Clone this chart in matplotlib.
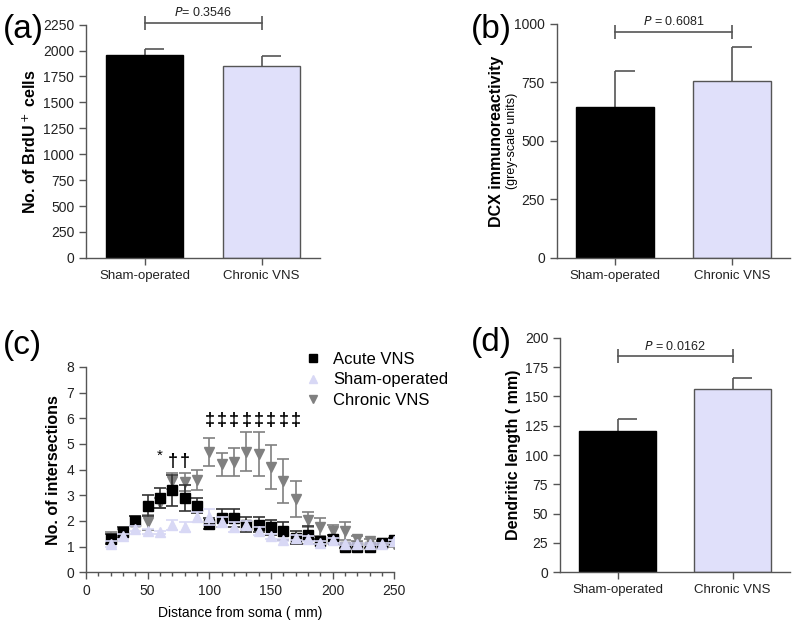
import matplotlib.pyplot as plt
import numpy as np

plt.rcParams['font.family'] = ['Liberation Sans', 'DejaVu Sans']

groups = ["Sham-operated", "Chronic VNS"]

# (a) BrdU+ cells
brdu_mean = [1960, 1855]
brdu_sem = [50, 95]
# (b) DCX immunoreactivity
dcx_mean = [645, 757]
dcx_sem = [155, 143]
# (d) dendritic length
dend_mean = [120.5, 156]
dend_sem = [10, 9.5]

# (c) Sholl analysis
dist = [20, 30, 40, 50, 60, 70, 80, 90, 100, 110, 120, 130, 140, 150, 160,
        170, 180, 190, 200, 210, 220, 230, 240, 250]
acute = [1.3, 1.55, 2.0, 2.6, 2.9, 3.2, 2.9, 2.6, 1.9, 2.1, 2.1, 1.85, 1.85,
         1.75, 1.6, 1.35, 1.45, 1.2, 1.3, 1.0, 1.0, 1.0, 1.15, 1.25]
acute_err = [0.2, 0.2, 0.2, 0.4, 0.4, 0.6, 0.5, 0.3, 0.2, 0.35, 0.35, 0.3, 0.3,
             0.3, 0.35, 0.25, 0.35, 0.1, 0.15, 0.05, 0.05, 0.05, 0.05, 0.1]
sham = [1.1, 1.4, 1.7, 1.6, 1.55, 1.85, 1.75, 2.15, 2.15, 1.95, 1.75, 1.85, 1.6,
        1.4, 1.25, 1.35, 1.3, 1.15, 1.25, 1.1, 1.1, 1.1, 1.1, 1.2]
sham_err = [0.1, 0.1, 0.1, 0.1, 0.05, 0.2, 0.2, 0.2, 0.3, 0.2, 0.2, 0.15, 0.15,
            0.1, 0.05, 0.1, 0.1, 0.05, 0.1, 0.05, 0.05, 0.05, 0.05, 0.05]
chronic = [1.35, 1.55, 2.0, 1.95, 2.7, 3.55, 3.5, 3.6, 4.7, 4.2, 4.3, 4.7, 4.6,
           4.1, 3.55, 2.85, 2.05, 1.75, 1.6, 1.6, 1.3, 1.2, 1.15, 1.1]
chronic_err = [0.2, 0.15, 0.2, 0.3, 0.2, 0.3, 0.35, 0.4, 0.55, 0.45, 0.55, 0.75,
               0.85, 0.85, 0.85, 0.7, 0.3, 0.35, 0.25, 0.35, 0.1, 0.1, 0.1, 0.1]
sig_star = [60]
sig_dagger = [70, 80]
sig_ddagger = [100, 110, 120, 130, 140, 150, 160, 170]

axcol = '#555555'
bar_colors = ['black', '#e0e0fa']

fig = plt.figure(figsize=(8, 6.2), dpi=100)


def style(ax):
    for s in ['top', 'right']:
        ax.spines[s].set_visible(False)
    for s in ['left', 'bottom']:
        ax.spines[s].set_color(axcol)
        ax.spines[s].set_linewidth(1.0)
    ax.tick_params(colors=axcol, labelcolor='#222222', labelsize=10, length=5, width=1)


def bar_panel(rect, mean, sem, ylim, yticks, ptxt, ybr):
    ax = fig.add_axes(rect)
    x = np.arange(len(groups))
    ax.bar(x, mean, width=0.665, color=bar_colors, edgecolor=['black', '#555555'],
           linewidth=1.0, zorder=2)
    top = np.array(mean) + np.array(sem)
    # GraphPad-style error bars: upper only, cap to the right
    ax.vlines(x, mean, top, color=axcol, lw=1.2, zorder=1)
    ax.hlines(top, x, x + 0.17, color=axcol, lw=1.2, zorder=1)
    ax.set_xlim(-0.5, 1.5)
    ax.set_ylim(*ylim)
    ax.set_yticks(yticks)
    ax.set_xticks(x)
    ax.set_xticklabels(groups, fontsize=9.5)
    style(ax)
    ax.tick_params(axis='x', labelsize=9.5)
    ax.plot([0, 1], [ybr, ybr], color=axcol, lw=1.2, clip_on=False,
            marker='|', markersize=10, markeredgewidth=1.2)
    ax.text(0.5, ybr + (ylim[1] - ylim[0]) * 0.015, ptxt, ha='center', va='bottom',
            fontsize=9, color='#222222')
    return ax


ax_a = bar_panel([0.1075, 0.584, 0.2925, 0.3763], brdu_mean, brdu_sem, (0, 2250),
                 range(0, 2251, 250), r'$\it{P}$= 0.3546', 2270)
ax_a.set_ylabel('No. of BrdU$^+$ cells', fontsize=11.5, fontweight='bold', labelpad=3)

ax_b = bar_panel([0.696, 0.584, 0.2916, 0.3774], dcx_mean, dcx_sem, (0, 1000),
                 range(0, 1001, 250), r'$\it{P}$ = 0.6081', 966)
ax_b.set_ylabel('DCX immunoreactivity', fontsize=11.5, fontweight='bold', labelpad=7)
ax_b.text(-0.19, 0.5, '(grey-scale units)', transform=ax_b.transAxes, rotation=90,
          ha='center', va='center', fontsize=9)

ax_d = bar_panel([0.7, 0.077, 0.2875, 0.378], dend_mean, dend_sem, (0, 200),
                 range(0, 201, 25), r'$\it{P}$ = 0.0162', 184.5)
ax_d.set_ylabel('Dendritic length ( mm)', fontsize=11.5, fontweight='bold', labelpad=3)

# (c)
ax_c = fig.add_axes([0.1075, 0.077, 0.3854, 0.3311])
ax_c.errorbar(dist, chronic, yerr=chronic_err, fmt='v', color='#808080', ms=7.5,
              ecolor='#808080', elinewidth=1.2, capsize=4, capthick=1.2,
              label='Chronic VNS', zorder=2)
ax_c.errorbar(dist, acute, yerr=acute_err, fmt='s', color='black', ms=6.5,
              ecolor='#333333', elinewidth=1.2, capsize=4, capthick=1.2,
              label='Acute VNS', zorder=3)
ax_c.errorbar(dist, sham, yerr=sham_err, fmt='^', color='#d8d8f5', ms=7.5,
              ecolor='#d8d8f5', elinewidth=1.2, capsize=4, capthick=1.2,
              label='Sham-operated', zorder=4)
for d in sig_star:
    ax_c.text(d, 4.25, '*', ha='center', va='bottom', fontsize=11)
for d in sig_dagger:
    ax_c.text(d, 4.0, '†', ha='center', va='bottom', fontsize=13, fontweight='bold')
for d in sig_ddagger:
    ax_c.text(d, 5.6, '‡', ha='center', va='bottom', fontsize=13, fontweight='bold')
ax_c.set_xlim(0, 250)
ax_c.set_ylim(0, 8)
ax_c.set_xticks(range(0, 251, 50))
ax_c.set_xticks(range(0, 251, 10), minor=True)
ax_c.set_yticks(range(0, 9))
style(ax_c)
ax_c.tick_params(which='minor', colors=axcol, length=3, width=1)
ax_c.set_xlabel('Distance from soma ( mm)', fontsize=10, labelpad=6)
ax_c.set_ylabel('No. of intersections', fontsize=11.5, fontweight='bold', labelpad=4)
h, l = ax_c.get_legend_handles_labels()
order = [1, 2, 0]
leg = fig.legend([h[i][0] for i in order], [l[i] for i in order],
                 loc='upper left', bbox_to_anchor=(0.36, 0.457), frameon=False,
                 fontsize=12, handletextpad=0.6, labelspacing=0.35,
                 handlelength=1.2, markerscale=0.8)

fig.text(0.003, 0.952, '(a)', fontsize=24, va='center')
fig.text(0.589, 0.952, '(b)', fontsize=24, va='center')
fig.text(0.003, 0.443, '(c)', fontsize=24, va='center')
fig.text(0.589, 0.447, '(d)', fontsize=24, va='center')

fig.savefig('out.png', dpi=100)
